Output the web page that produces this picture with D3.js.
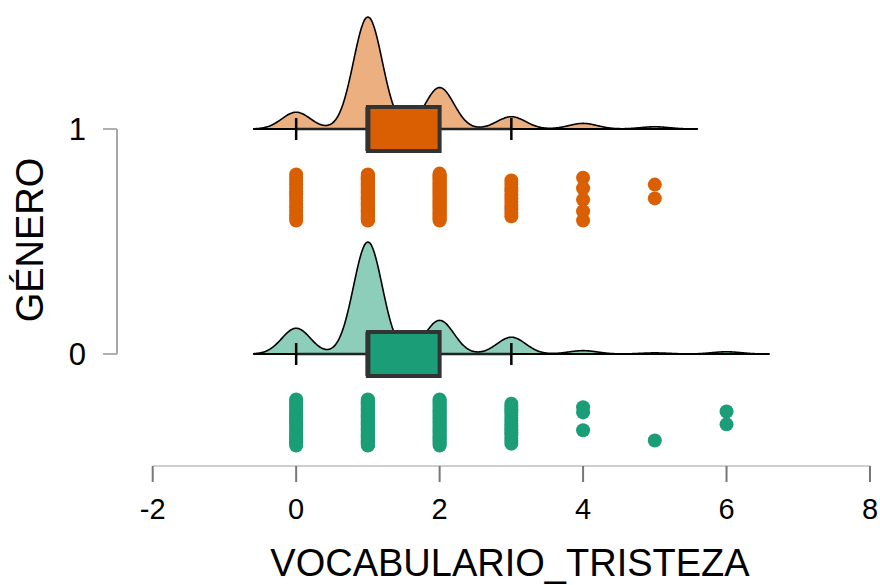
<!DOCTYPE html>
<html><head><meta charset="utf-8">
<script src="https://cdn.jsdelivr.net/npm/d3@7"></script>
<style>body{margin:0;background:#fff}svg{display:block}text{font-family:"Liberation Sans",Arial,sans-serif;fill:#000}</style>
</head><body><svg id="c" width="880" height="585"></svg>
<script>
// ---- data ----
const groups = ["1", "0"];                 // GÉNERO categories (top to bottom)
const values = [0, 1, 2, 3, 4, 5, 6];      // VOCABULARIO_TRISTEZA levels
const counts1 = [15, 100, 37, 11, 5, 2];   // GÉNERO = 1, observations per level
const counts0 = [23, 100, 30, 15, 3, 1, 2];// GÉNERO = 0, observations per level
// jitter of the rain points (fraction of the rain band); [lo,hi] range or explicit list
const jitter1 = [[0,1],[0,1],[-0.02,1],[0.13,0.91],[0.07,0.3,0.55,0.8,1.0],[0.22,0.52]];
const jitter0 = [[0,1],[0,1],[0,1],[0.09,0.96],[0.17,0.28,0.67],[0.89],[0.26,0.54]];
const xTicks = [-2, 0, 2, 4, 6, 8];
const colors = {"1": "#D95F02", "0": "#1B9E77"};
const fills  = {"1": "#ECAF80", "0": "#8DCEBB"};

const svg = d3.select("#c");
const x = d3.scaleLinear().domain([-2, 8]).range([152.7, 870]);
const y = d3.scalePoint().domain(groups).range([129, 354]);

// ---- axes ----
const xa = svg.append("g");
xa.append("line").attr("x1", x(-2)).attr("x2", x(8)).attr("y1", 466).attr("y2", 466)
  .attr("stroke", "#cfcfcf").attr("stroke-width", 2);
xa.selectAll(".t").data(xTicks).join("line")
  .attr("x1", d => x(d)).attr("x2", d => x(d)).attr("y1", 466).attr("y2", 482)
  .attr("stroke", "#777").attr("stroke-width", 2);
xa.selectAll(".l").data(xTicks).join("text")
  .attr("x", d => x(d)).attr("y", 519).attr("text-anchor", "middle")
  .attr("font-size", 29).text(d => d);
svg.append("text").attr("x", 510).attr("y", 576).attr("text-anchor", "middle")
  .attr("font-size", 38).text("VOCABULARIO_TRISTEZA");

const ya = svg.append("g");
ya.append("line").attr("x1", 117).attr("x2", 117).attr("y1", y("1")).attr("y2", y("0"))
  .attr("stroke", "#8a8a8a").attr("stroke-width", 1.5);
ya.selectAll(".t").data(groups).join("line")
  .attr("x1", 103).attr("x2", 117).attr("y1", d => y(d)).attr("y2", d => y(d))
  .attr("stroke", "#b0b0b0").attr("stroke-width", 2);
ya.selectAll(".l").data(groups).join("text")
  .attr("x", 86).attr("y", d => y(d)).attr("dy", "0.36em").attr("text-anchor", "end")
  .attr("font-size", 31).text(d => d);
svg.append("text").attr("transform", "translate(43,240) rotate(-90)")
  .attr("text-anchor", "middle").attr("font-size", 38).text("GÉNERO");

// ---- clouds, boxes, rain ----
const bw = 0.2, cloudH = 112, rainOff = 45.5, rainSpan = 46, r = 7;

function quantile(counts, p) {
  const n = d3.sum(counts); let cum = 0;
  const target = p * (n - 1);
  for (let i = 0; i < counts.length; i++) { cum += counts[i]; if (cum - 1 >= target) return values[i]; }
  return values[counts.length - 1];
}

function drawGroup(g, counts, jit) {
  const base = y(g);
  const maxV = values[counts.length - 1];
  const xs = d3.range(-0.6, maxV + 0.6 + 1e-9, 0.01);
  const dens = xs.map(v => d3.sum(counts, (c, i) => c * Math.exp(-0.5 * ((v - values[i]) / bw) ** 2)));
  const hmax = d3.max(dens);
  const pts = xs.map((v, i) => [v, dens[i] / hmax * cloudH]);
  const area = d3.area().x(d => x(d[0])).y0(base).y1(d => base - d[1]).curve(d3.curveBasis);
  svg.append("path").datum(pts).attr("d", area).attr("fill", fills[g]).attr("stroke", "none");
  const line = d3.line().x(d => x(d[0])).y(d => base - d[1]).curve(d3.curveBasis);
  svg.append("path").datum(pts).attr("d", line).attr("fill", "none").attr("stroke", "#000").attr("stroke-width", 1.6);
  svg.append("line").attr("x1", x(-0.6)).attr("x2", x(maxV + 0.6)).attr("y1", base).attr("y2", base)
    .attr("stroke", "#000").attr("stroke-width", 2);

  // box stats
  const q1 = quantile(counts, 0.25), med = quantile(counts, 0.5), q3 = quantile(counts, 0.75);
  const iqr = q3 - q1;
  const present = values.filter((v, i) => i < counts.length && counts[i] > 0);
  const lo = d3.min(present.filter(v => v >= q1 - 1.5 * iqr));
  const hi = d3.max(present.filter(v => v <= q3 + 1.5 * iqr));
  svg.append("line").attr("x1", x(lo)).attr("x2", x(hi)).attr("y1", base).attr("y2", base)
    .attr("stroke", "#222").attr("stroke-width", 2.5);
  [lo, hi].forEach(v => svg.append("line").attr("x1", x(v)).attr("x2", x(v))
    .attr("y1", base - 11).attr("y2", base + 11).attr("stroke", "#000").attr("stroke-width", 2.5));
  svg.append("rect").attr("x", x(q1)).attr("y", base - 22).attr("width", x(q3) - x(q1)).attr("height", 44)
    .attr("fill", colors[g]).attr("stroke", "#333").attr("stroke-width", 4);
  svg.append("line").attr("x1", x(med)).attr("x2", x(med)).attr("y1", base - 22).attr("y2", base + 22)
    .attr("stroke", "#333").attr("stroke-width", 5);

  // rain
  const rain = [];
  counts.forEach((c, i) => {
    const j = jit[i];
    let fr;
    if (j.length === c) fr = j;
    else fr = d3.range(c).map(k => j[0] + (j[1] - j[0]) * (c === 1 ? 0.5 : k / (c - 1)));
    fr.forEach(f => rain.push([values[i], f]));
  });
  svg.append("g").selectAll("circle").data(rain).join("circle")
    .attr("cx", d => x(d[0])).attr("cy", d => base + rainOff + d[1] * rainSpan).attr("r", r)
    .attr("fill", colors[g]);
}
drawGroup("1", counts1, jitter1);
drawGroup("0", counts0, jitter0);
</script></body></html>
